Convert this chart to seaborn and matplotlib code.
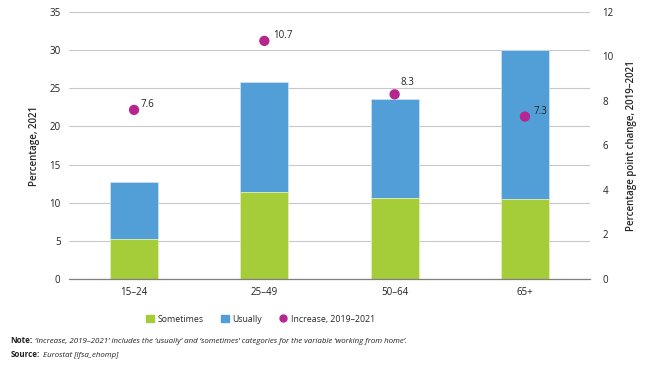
import numpy as np
import pandas as pd
import matplotlib
matplotlib.use('Agg')
import matplotlib.pyplot as plt
import seaborn as sns
from matplotlib.patches import Patch
from matplotlib.lines import Line2D

age_groups = ['15\u201324', '25\u201349', '50\u201364', '65+']
sometimes = [5.3, 11.4, 10.6, 10.5]
usually = [7.4, 14.4, 13.0, 19.5]
increase = [7.6, 10.7, 8.3, 7.3]

GREEN = '#a5cc39'
BLUE = '#529fd7'
MAGENTA = '#b7268f'

sns.set_style('white')
plt.rcParams['font.family'] = ['Open Sans', 'DejaVu Sans']

df = pd.DataFrame({'age': age_groups, 'sometimes': sometimes, 'usually': usually, 'increase': increase})

fig = plt.figure(figsize=(6.69, 3.74), dpi=100)
ax = fig.add_axes([0.103, 0.254, 0.779, 0.714])

# blue (usually) stacked on top of green (sometimes)
sns.barplot(data=df, x='age', y='usually', bottom=df['sometimes'], color=BLUE,
            width=0.37, saturation=1, ax=ax, edgecolor='#cfe6f7', linewidth=0.5)
sns.barplot(data=df, x='age', y='sometimes', color=GREEN,
            width=0.37, saturation=1, ax=ax, edgecolor='#e4f0c0', linewidth=0.5)

ax.set_ylim(0, 35)
ax.set_xlim(-0.5, 3.5)
ax.set_yticks(np.arange(0, 36, 5))
ax.yaxis.grid(True, color='#c8c8c8', linewidth=0.8)
ax.set_axisbelow(True)
for s in ['top', 'right', 'left']:
    ax.spines[s].set_visible(False)
ax.spines['bottom'].set_color('#808080')
ax.spines['bottom'].set_linewidth(0.9)
ax.tick_params(axis='both', length=0, labelsize=7, colors='#222222', pad=6)
ax.set_xlabel('')
ax.set_ylabel('Percentage, 2021', fontsize=7, fontweight='semibold', labelpad=7)

ax2 = ax.twinx()
sns.scatterplot(x=np.arange(len(age_groups)), y=df['increase'], color=MAGENTA, s=55,
                edgecolor='none', ax=ax2, zorder=5)
ax2.set_ylim(0, 12)
ax2.set_yticks(np.arange(0, 13, 2))
for s in ax2.spines.values():
    s.set_visible(False)
ax2.tick_params(axis='y', length=0, labelsize=7, colors='#222222', pad=9)
ax2.set_ylabel('Percentage point change, 2019\u20132021', fontsize=7, fontweight='semibold', labelpad=9)
offsets = [(5, 2), (6, 2), (4, 7), (6, 2)]
for i, v in enumerate(increase):
    ax2.annotate(f'{v}', (i, v), xytext=offsets[i], textcoords='offset points',
                 fontsize=7, color='#222222')

handles = [Patch(color=GREEN, label='Sometimes'),
           Patch(color=BLUE, label='Usually'),
           Line2D([], [], marker='o', linestyle='none', color=MAGENTA, markersize=5,
                  label='Increase, 2019\u20132021')]
fig.legend(handles=handles, loc='center', bbox_to_anchor=(0.389, 0.147), ncol=3,
           frameon=False, fontsize=6.3, handlelength=0.9, handleheight=0.9,
           columnspacing=2.0, handletextpad=0.4)

fig.text(0.016, 0.083, 'Note:', fontsize=5.8, fontweight='bold', color='#222222')
fig.text(0.053, 0.083, "\u2018Increase, 2019\u20132021\u2019 includes the \u2018usually\u2019 and \u2018sometimes\u2019 categories for the variable \u2018working from home\u2019.",
         fontsize=5.7, style='italic', color='#222222')
fig.text(0.016, 0.045, 'Source:', fontsize=5.8, fontweight='bold', color='#222222')
fig.text(0.065, 0.045, 'Eurostat [lfsa_ehomp]', fontsize=5.7, style='italic', color='#222222')

fig.savefig('out.png', dpi=100)
